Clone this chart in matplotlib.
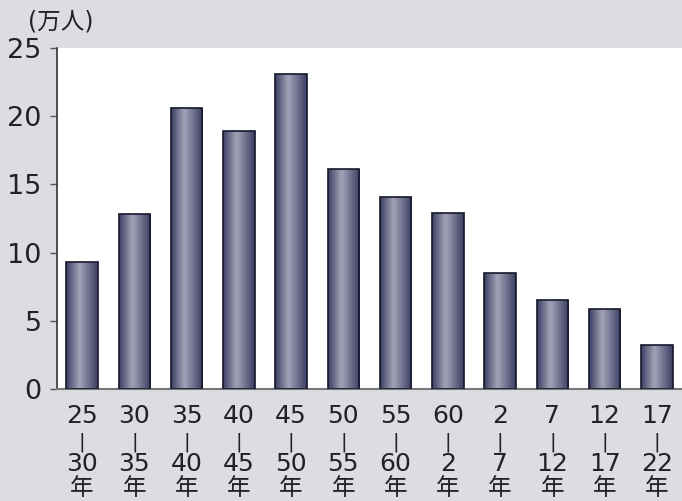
import numpy as np
import matplotlib.pyplot as plt
import matplotlib.transforms as mtransforms
from matplotlib.colors import LinearSegmentedColormap

plt.rcParams['font.family'] = ['DejaVu Sans', 'Noto Sans CJK JP']

start_years = ['25', '30', '35', '40', '45', '50', '55', '60', '2', '7', '12', '17']
end_years = ['30', '35', '40', '45', '50', '55', '60', '2', '7', '12', '17', '22']
values = [9.3, 12.8, 20.6, 18.9, 23.1, 16.1, 14.1, 12.9, 8.5, 6.5, 5.9, 3.2]

bg = '#dcdde2'
fig = plt.figure(figsize=(6.82, 5.01), dpi=100, facecolor=bg)
ax = fig.add_axes([57 / 682, 1 - 389 / 501, 625 / 682, 341 / 501])
ax.set_facecolor('white')

# cylinder-like shading for the bars
shade = LinearSegmentedColormap.from_list(
    'shade', [(0, '#3b3e63'), (0.42, '#a3a3b7'), (1, '#3b3e63')])
grad = np.linspace(0, 1, 256).reshape(1, -1)

x = np.arange(len(values))
bars = ax.bar(x, values, width=0.6, color='none', edgecolor='#15172a',
              linewidth=1.2, zorder=3)
for b in bars:
    x0, y0 = b.get_x(), b.get_y()
    w, h = b.get_width(), b.get_height()
    im = ax.imshow(grad, cmap=shade, aspect='auto', zorder=2,
                   extent=[x0, x0 + w, y0, y0 + h], interpolation='bicubic')
    im.set_clip_path(b)

ax.set_xlim(-0.48, len(values) - 0.52)
ax.set_ylim(0, 25)
ax.set_yticks([0, 5, 10, 15, 20, 25])
ax.tick_params(axis='y', direction='out', length=5, width=1, color='#555555',
               labelsize=19.5, pad=6, colors='#222222')
ax.set_xticks([])

# vertical period labels: start / bar / end / 年
base = ax.get_xaxis_transform()
def below(px):
    return mtransforms.offset_copy(base, fig=fig, y=-px, units='dots')

for xi, a, b in zip(x, start_years, end_years):
    ax.text(xi, 0, a, transform=below(27), ha='center', va='center',
            fontsize=18, color='#222222')
    ax.text(xi, 0, '|', transform=below(53), ha='center', va='center',
            fontsize=14, color='#222222')
    ax.text(xi, 0, b, transform=below(75), ha='center', va='center',
            fontsize=18, color='#222222')
    ax.text(xi, 0, '年', transform=below(99), ha='center', va='center',
            fontsize=17, color='#222222')

for s in ['top', 'right']:
    ax.spines[s].set_visible(False)
ax.spines['left'].set_color('#333333')
ax.spines['left'].set_linewidth(1.2)
ax.spines['bottom'].set_color('#777777')
ax.spines['bottom'].set_linewidth(1.5)

fig.text(28 / 682, 1 - 21 / 501, '(万人)', fontsize=17, va='center',
         ha='left', color='#222222')

fig.savefig('out.png', dpi=100, facecolor=bg)
